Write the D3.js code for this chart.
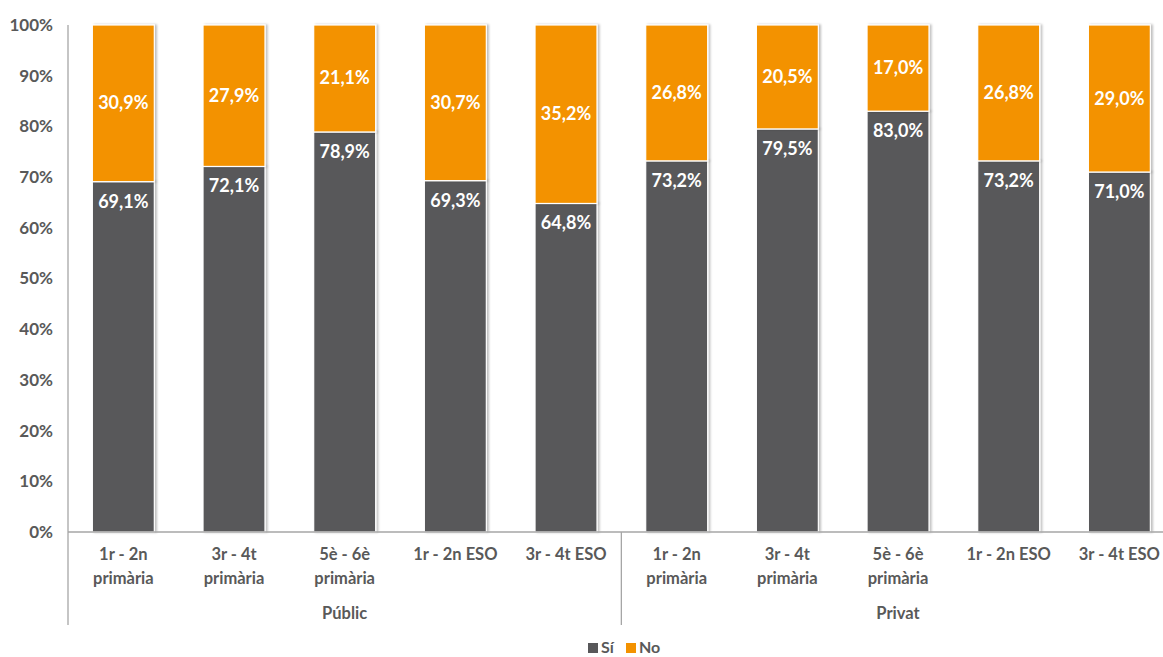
<!DOCTYPE html>
<html>
<head>
<meta charset="utf-8">
<script src="https://cdn.jsdelivr.net/npm/d3@7"></script>
<style>
  html, body { margin: 0; padding: 0; background: #fff; }
  svg { display: block; font-family: Lato, "Open Sans", sans-serif; font-weight: bold; }
</style>
</head>
<body>
<svg id="chart" width="1163" height="657"></svg>
<script>
// Cursos per tipus de centre
const groups = ["Públic", "Privat"];
const courses = [
  ["1r - 2n", "primària"],
  ["3r - 4t", "primària"],
  ["5è - 6è", "primària"],
  ["1r - 2n ESO"],
  ["3r - 4t ESO"]
];
const siValues = [69.1, 72.1, 78.9, 69.3, 64.8, 73.2, 79.5, 83.0, 73.2, 71.0];
const noValues = [30.9, 27.9, 21.1, 30.7, 35.2, 26.8, 20.5, 17.0, 26.8, 29.0];
const seriesNames = ["Sí", "No"];
const yTicks = [0, 10, 20, 30, 40, 50, 60, 70, 80, 90, 100];

const colors = { "Sí": "#58585a", "No": "#f39200" };
const textGray = "#595959";

const svg = d3.select("#chart");
const margin = { left: 68, top: 25, bottom: 125 };
const step = 110.67;
const innerH = 657 - margin.top - margin.bottom;

const rows = [];
groups.forEach((g, gi) => courses.forEach((c, ci) => {
  const i = gi * courses.length + ci;
  rows.push({ key: i, group: g, lines: c, "Sí": siValues[i], "No": noValues[i] });
}));

const x = d3.scaleBand()
  .domain(rows.map(d => d.key))
  .range([margin.left, margin.left + step * rows.length])
  .paddingInner(0.44).paddingOuter(0.22);
const y = d3.scaleLinear().domain([0, 100]).range([margin.top + innerH, margin.top]);

const stack = d3.stack().keys(seriesNames)(rows);

// bar shadow
const defs = svg.append("defs");
const f = defs.append("filter").attr("id", "shadow").attr("x", "-10%").attr("y", "-5%").attr("width", "130%").attr("height", "110%");
f.append("feDropShadow").attr("dx", 2).attr("dy", 0).attr("stdDeviation", 1.2).attr("flood-color", "#000").attr("flood-opacity", 0.25);

// y axis labels
const yAxis = d3.axisLeft(y).tickValues(yTicks).tickFormat(d => d + "%").tickSize(0).tickPadding(15);
const yg = svg.append("g").attr("transform", `translate(${margin.left},0)`).call(yAxis);
yg.select(".domain").remove();
yg.selectAll("text").attr("fill", textGray).style("font-size", "17px").style("font-weight", "bold").attr("font-family", "Lato, sans-serif");

// bars
const layers = svg.append("g").selectAll("g").data(stack).join("g").attr("fill", d => colors[d.key]);
layers.selectAll("rect").data(d => d).join("rect")
  .attr("x", d => x(d.data.key))
  .attr("width", x.bandwidth())
  .attr("y", d => y(d[1]))
  .attr("height", d => y(d[0]) - y(d[1]))
  .attr("stroke", "#fff").attr("stroke-width", 1.2)
  .attr("filter", "url(#shadow)");

// value labels
const fmt = v => v.toFixed(1).replace(".", ",") + "%";
stack.forEach(layer => {
  svg.append("g").selectAll("text").data(layer).join("text")
    .attr("x", d => x(d.data.key) + x.bandwidth() / 2)
    .attr("y", d => layer.key === "Sí" ? y(d[1]) + 26 : (y(d[0]) + y(d[1])) / 2 + 6)
    .attr("text-anchor", "middle")
    .attr("fill", "#fff")
    .style("font-size", "18px")
    .text(d => fmt(d[1] - d[0]));
});

// axes lines
const y0 = y(0);
const axisColor = "#a6a6a6";
svg.append("line").attr("x1", margin.left).attr("x2", 1163).attr("y1", y0).attr("y2", y0).attr("stroke", axisColor).attr("stroke-width", 1.3);
svg.append("line").attr("x1", margin.left).attr("x2", margin.left).attr("y1", margin.top).attr("y2", 625).attr("stroke", axisColor).attr("stroke-width", 1.3);
const sepX = margin.left + step * courses.length;
svg.append("line").attr("x1", sepX).attr("x2", sepX).attr("y1", y0).attr("y2", 625).attr("stroke", axisColor).attr("stroke-width", 1.3);

// category labels
const cat = svg.append("g").selectAll("text").data(rows).join("text")
  .attr("text-anchor", "middle")
  .attr("fill", textGray)
  .style("font-size", "16.5px")
  .attr("transform", d => `translate(${x(d.key) + x.bandwidth() / 2},${y0 + 28})`);
cat.selectAll("tspan").data(d => d.lines).join("tspan")
  .attr("x", 0).attr("dy", (d, i) => i === 0 ? 0 : 24).text(d => d);

// group labels
svg.append("g").selectAll("text").data(groups).join("text")
  .attr("x", (d, i) => margin.left + step * courses.length * (i + 0.5))
  .attr("y", 619)
  .attr("text-anchor", "middle")
  .attr("fill", textGray)
  .style("font-size", "16.5px")
  .text(d => d);

// legend
const legend = svg.append("g").attr("transform", "translate(588,653)");
const items = legend.selectAll("g").data(seriesNames).join("g")
  .attr("transform", (d, i) => `translate(${i * 38},0)`);
items.append("rect").attr("x", 0).attr("y", -10).attr("width", 10).attr("height", 10).attr("fill", d => colors[d]);
items.append("text").attr("x", 13).attr("y", 0).attr("fill", textGray).style("font-size", "16px").text(d => d);
</script>
</body>
</html>
